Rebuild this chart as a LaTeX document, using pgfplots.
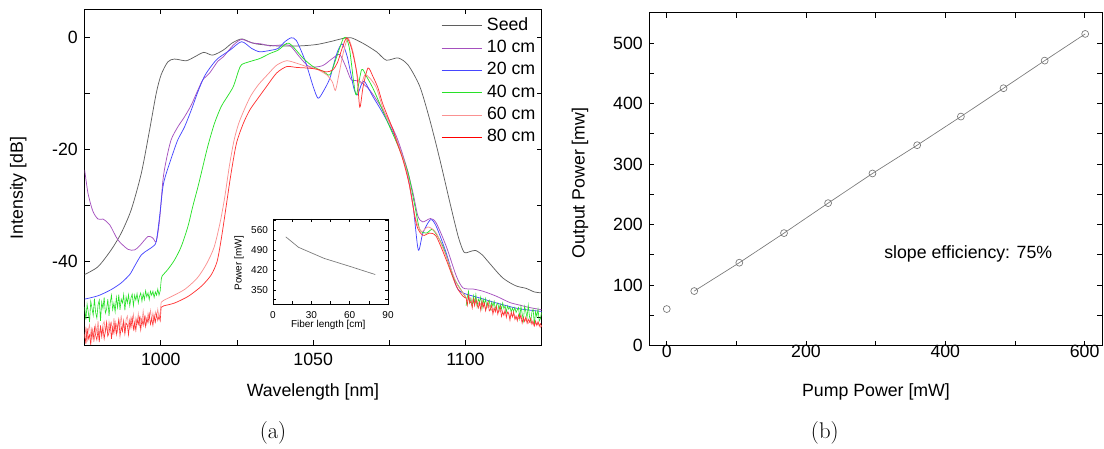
\documentclass[border=0pt]{standalone}
\usepackage{pgfplots}
\pgfplotsset{compat=1.18}
\usepackage{fontspec}
\newfontfamily\arial{Liberation Sans}
\definecolor{cseed}{RGB}{95,95,95}
\definecolor{cten}{RGB}{165,80,190}
\definecolor{ctwenty}{RGB}{70,70,255}
\definecolor{cforty}{RGB}{40,225,40}
\definecolor{csixty}{RGB}{250,145,145}
\definecolor{credline}{RGB}{255,50,50}
\definecolor{clegred}{RGB}{255,0,0}
\definecolor{cgr}{RGB}{120,120,120}
\newcommand{\bigf}{\arial\fontsize{13.3}{15}\selectfont}
\pgfplotsset{
  myax/.style={scale only axis, anchor=south west,
    axis line style={line width=0.7pt},
    tick align=inside, tick style={line width=0.6pt, black},
    major tick length=3.75pt, minor tick length=3.75pt,
    /pgf/number format/assume math mode=true,
    /pgf/number format/1000 sep={},
    ticklabel style={font=\bigf},
  },
  myleg/.style={
    legend style={draw=none, fill=none, anchor=north west,
      font=\bigf, row sep=4.3pt, inner sep=0pt,
      nodes={inner xsep=3.5pt, inner ysep=0pt, text height=9.6pt, text depth=2.8pt}},
    legend cell align=left,
    legend image code/.code={\draw[##1] (0pt,0pt) -- (30pt,0pt);},
  },
}
\begin{document}
\begin{tikzpicture}[x=1pt,y=1pt]
\useasboundingbox (0,0) rectangle (828,336.75);
% ---------------- panel (a)
\begin{axis}[myax, myleg, at={(63.5pt,78pt)}, width=342.75pt, height=251.8pt,
  xmin=975, xmax=1125, ymin=-55, ymax=5,
  xtick={1000,1050,1100}, minor xtick={1025,1075},
  ytick={-40,-20,0}, minor ytick={-50,-30,-10},
  xticklabel style={yshift=-2.85pt}, yticklabel style={xshift=-1.6pt},
  every axis plot/.append style={line width=0.55pt},
  legend style={at={(0.7796,0.9759)}},
]
\addlegendimage{draw=cseed, line width=0.6pt}\addlegendentry{Seed}
\addlegendimage{draw=cten, line width=0.8pt}\addlegendentry{10 cm}
\addlegendimage{draw=ctwenty, line width=0.6pt}\addlegendentry{20 cm}
% Seed
\addplot[cseed, smooth, tension=0.45, forget plot] table {
x y
975 -42.4
979.4 -41.0
983.7 -38.0
987 -35.0
990.3 -30.8
993.6 -24.3
996.3 -16.6
998.5 -10.0
1000.1 -6.7
1002.3 -4.4
1004.5 -3.9
1008.3 -4.2
1011.1 -3.5
1014.1 -2.7
1017 -3.2
1020.5 -2.3
1023.5 -1.0
1026.5 -0.3
1029 -0.8
1031.4 -1.2
1038 -1.55
1045.6 -1.55
1051.1 -1.3
1055.5 -0.8
1059.9 -0.2
1062.5 -0.1
1066.4 -1.1
1070.8 -2.6
1074.0 -4.1
1077.9 -3.7
1081.2 -5.0
1085.0 -8.8
1088.3 -14.8
1091.6 -21.9
1094.9 -29.6
1097.6 -35.6
1099.5 -38.4
1101.5 -38.3
1103.3 -38.1
1105.5 -38.9
1107.9 -40.4
1112.2 -43.0
1116.4 -44.4
1120 -44.9
1122.5 -45.5
1125 -45.7
};
% 10 cm
\addplot[cten, smooth, tension=0.45, forget plot] table {
x y
975 -23.7
976.1 -27.9
977.7 -31.1
979.4 -32.5
981.0 -32.5
983.2 -33.5
985.9 -36.2
989.2 -37.9
991.4 -38.0
993.0 -37.3
995.8 -35.6
997.4 -35.9
998.5 -36.5
999.6 -32.6
1000.7 -25.5
1001.8 -21.9
1003.4 -18.3
1005.6 -16.0
1007.8 -14.2
1010.0 -12.1
1012.2 -9.4
1013.8 -7.6
1016.0 -6.4
1018.7 -4.3
1020.5 -3.5
1023.8 -1.4
1026.5 -0.4
1029.8 -1.0
1033.1 -1.2
1035.8 -1.55
1039.1 -1.4
1042.4 -1.5
1045.5 -3.5
1048.7 -5.25
1053.0 -5.1
1056.3 -3.8
1058.7 -3.1
1060.7 -5.25
1062.5 -7.6
1065.0 -7.8
1068.5 -9.4
1072.9 -13.0
1077.3 -17.7
1080.6 -23.1
1082.8 -27.9
1084.4 -32.0
1086.0 -33.0
1088.5 -32.4
1090.4 -33.2
1093.7 -37.4
1097.0 -42.7
1099.2 -44.8
1102.5 -45.0
1105.8 -45.4
1110.2 -46.3
1114.5 -47.4
1118 -47.9
1121 -48.3
1125 -48.7
};
% 20 cm
\addplot[ctwenty, smooth, tension=0.45, forget plot] table {
x y
975 -46.8
979.4 -46.2
983.7 -45.1
987.0 -43.9
989.8 -42.4
991.4 -40.9
993.6 -38.9
995.8 -38.0
997.4 -37.4
998.5 -36.5
999.6 -32.0
1000.7 -26.7
1001.8 -24.3
1004.0 -20.7
1005.6 -18.3
1007.8 -16.0
1010.0 -13.0
1012.2 -9.7
1014.3 -7.0
1016.5 -5.2
1018.7 -3.8
1022.7 -2.3
1026.5 -0.8
1029.8 -2.0
1032.5 -2.6
1036.4 -2.3
1038.5 -2.0
1040.7 -0.8
1042.8 -0.1
1044.5 -0.6
1047.3 -4.1
1050.0 -8.8
1051.6 -10.9
1053.3 -9.7
1055.5 -7.3
1057.7 -3.0
1059.5 -1.2
1061.2 -3.5
1063.3 -9.0
1064.5 -10.3
1066.0 -8.2
1067.0 -8.0
1069.6 -10.6
1072.9 -13.6
1077.3 -18.3
1080.6 -23.7
1082.8 -30.2
1084.5 -38.0
1086.0 -35.0
1088.5 -32.6
1090.4 -33.8
1093.7 -38.6
1097.0 -44.5
1099.2 -45.7
1104.7 -46.6
1110.2 -47.5
1116.5 -48.4
1120 -48.7
1125 -49.0
};
% 40 cm
\addplot[cforty, line width=0.45pt, forget plot] table {
x y
975.0 -48.2
975.4 -50.5
975.8 -47.7
976.2 -49.2
976.6 -50.9
977.0 -47.2
977.4 -48.4
977.8 -49.7
978.2 -46.7
978.6 -49.2
979.0 -50.2
979.4 -47.8
979.8 -47.0
980.2 -50.7
980.6 -47.3
981.0 -48.5
981.4 -46.5
981.8 -49.3
982.2 -48.6
982.6 -46.8
983.0 -49.8
983.4 -47.4
983.8 -46.1
984.2 -48.7
984.6 -47.5
985.0 -49.1
985.4 -46.5
985.8 -48.3
986.2 -46.0
986.6 -48.7
987.0 -46.8
987.4 -47.5
987.8 -46.0
988.2 -48.8
988.6 -46.4
989.0 -47.5
989.4 -46.0
989.8 -48.0
990.2 -46.6
990.6 -45.9
991.0 -48.0
991.4 -46.1
991.8 -47.0
992.2 -45.8
992.6 -47.5
993.0 -46.3
993.4 -45.7
993.8 -47.2
994.2 -45.8
994.6 -46.9
995.0 -45.3
995.4 -46.4
995.8 -45.7
996.2 -46.9
996.6 -45.4
997.0 -46.1
997.4 -45.4
997.8 -46.5
998.2 -45.5
998.6 -46.1
999.0 -45.0
999.4 -46.1
999.8 -45.3
1000.1 -43.5
};
\addplot[cforty, smooth, tension=0.45, forget plot] table {
x y
1000.1 -43.5
1000.4 -42.7
1002.3 -41.5
1004.5 -39.8
1006.7 -37.4
1008.9 -33.8
1010.5 -30.2
1012.2 -26.7
1013.8 -23.1
1015.4 -19.5
1017.6 -15.4
1019.8 -12.4
1021.6 -10.8
1023.8 -8.8
1025.5 -6.0
1026.5 -4.9
1029.2 -4.35
1032.5 -3.8
1035.8 -2.9
1038.5 -2.3
1041.3 -1.1
1042.9 -1.4
1046.8 -3.8
1050.0 -5.25
1053.3 -6.1
1055.5 -6.7
1057.7 -3.5
1059.9 -0.2
1061.0 -0.3
1062.0 -2.3
1063.3 -8.0
1064.2 -10.3
1065.9 -5.8
1067.5 -7.0
1069.6 -9.1
1071.8 -11.8
1075.1 -16.0
1078.4 -20.1
1081.2 -24.3
1083.4 -30.2
1085.0 -34.4
1087.2 -35.0
1089.3 -34.4
1092.6 -37.4
1095.9 -42.7
1098.7 -45.3
1100.2 -46.6
};
\addplot[cforty, line width=0.45pt, forget plot] table {
x y
1100.2 -48.0
1100.6 -46.4
1101.0 -45.4
1101.4 -47.5
1101.8 -46.7
1102.2 -48.0
1102.6 -46.2
1103.0 -47.6
1103.4 -46.0
1103.8 -48.1
1104.2 -46.8
1104.6 -47.3
1105.0 -46.4
1105.4 -48.5
1105.8 -46.8
1106.2 -47.8
1106.6 -46.7
1107.0 -48.3
1107.4 -47.3
1107.8 -47.0
1108.2 -48.6
1108.6 -47.3
1109.0 -48.1
1109.4 -47.2
1109.8 -48.7
1110.2 -47.8
1110.6 -47.5
1111.0 -48.7
1111.4 -47.7
1111.8 -48.6
1112.2 -47.5
1112.6 -48.5
1113.0 -48.0
1113.4 -49.1
1113.8 -48.0
1114.2 -48.6
1114.6 -48.2
1115.0 -49.1
1115.4 -48.4
1115.8 -49.0
1116.2 -48.3
1116.6 -49.2
1117.0 -48.7
1117.4 -48.3
1117.8 -50.2
1118.2 -48.1
1118.6 -49.4
1119.0 -50.7
1119.4 -48.1
1119.8 -49.0
1120.2 -50.1
1120.6 -47.9
1121.0 -49.9
1121.4 -50.8
1121.8 -49.1
1122.2 -48.6
1122.6 -51.4
1123.0 -49.0
1123.4 -49.9
1123.8 -48.6
1124.2 -50.7
1124.6 -50.3
1125.0 -49.1
};
% 60 cm
\addplot[csixty, line width=0.45pt, forget plot] table {
x y
975.0 -53.8
975.4 -51.7
975.8 -54.5
976.2 -52.3
976.6 -51.4
977.0 -53.8
977.4 -52.0
977.8 -52.8
978.2 -54.0
978.6 -51.5
979.0 -52.8
979.4 -50.7
979.8 -53.3
980.2 -52.0
980.6 -53.9
981.0 -51.3
981.4 -50.8
981.8 -52.7
982.2 -51.6
982.6 -53.2
983.0 -50.8
983.4 -51.9
983.8 -51.0
984.2 -53.2
984.6 -50.2
985.0 -52.3
985.4 -51.3
985.8 -52.6
986.2 -50.4
986.6 -51.7
987.0 -49.7
987.4 -52.2
987.8 -50.6
988.2 -53.0
988.6 -50.4
989.0 -49.8
989.4 -51.5
989.8 -52.1
990.2 -50.0
990.6 -50.8
991.0 -49.5
991.4 -52.0
991.8 -50.2
992.2 -51.2
992.6 -49.4
993.0 -51.5
993.4 -50.0
993.8 -50.8
994.2 -48.9
994.6 -51.1
995.0 -49.9
995.4 -51.2
995.8 -49.3
996.2 -50.2
996.6 -48.8
997.0 -50.6
997.4 -49.3
997.8 -50.7
998.2 -49.1
998.6 -50.0
999.0 -48.6
999.4 -50.1
999.8 -49.2
1000.1 -47.4
};
\addplot[csixty, smooth, tension=0.45, forget plot] table {
x y
1000.1 -47.4
1001 -47.0
1004 -46.2
1008 -45.0
1012 -43.0
1015 -40.5
1017.5 -37.5
1019.5 -33.0
1021 -28.5
1022.5 -23.0
1024 -18.5
1025.5 -15.5
1027.5 -12.8
1029.5 -10.5
1032 -8.5
1035 -6.7
1038 -5.0
1041.3 -4.2
1044.6 -4.65
1047.9 -5.25
1051.1 -5.7
1054.4 -6.7
1056.3 -8.0
1057.3 -9.5
1058.5 -6.5
1060 -2.5
1061.5 -0.2
1063.2 -2.9
1064.8 -7.6
1065.9 -8.2
1067 -6.7
1068.6 -7.3
1070.8 -9.1
1073.1 -13.0
1077 -17.7
1080.6 -23.7
1083.4 -32.0
1085.5 -34.7
1087.7 -33.9
1090.4 -35.0
1093.7 -39.2
1097.0 -43.9
1099.2 -45.7
1100 -46.3
};
\addplot[csixty, line width=0.45pt, forget plot] table {
x y
1100 -46.3
1100.5 -47.1
1101 -46.9
1101.5 -46.5
1102 -47.3
1102.5 -47.0
1103 -47.6
1103.5 -47.1
1104 -47.2
1104.5 -48.0
1105 -47.6
1105.5 -47.9
1106 -47.5
1106.5 -48.4
1107 -48.1
1107.5 -48.3
1108 -47.9
1108.5 -48.8
1109 -48.5
1109.5 -48.7
1110 -48.3
1110.5 -49.2
1111 -48.8
1111.5 -49.1
1112 -48.7
1112.5 -49.6
1113 -49.2
1113.5 -49.5
1114 -49.1
1114.5 -50.0
1115 -49.6
1115.5 -49.9
1116 -49.5
1116.5 -50.4
1117 -50.0
1117.5 -50.3
1118 -49.9
1118.5 -50.8
1119 -50.4
1119.5 -50.7
1120 -50.3
1120.5 -51.2
1121 -50.8
1121.5 -51.1
1122 -50.7
1122.5 -51.6
1123 -51.1
1123.5 -51.4
1124 -51.0
1124.5 -51.9
1125 -51.5
};
% 80 cm
\addplot[credline, line width=0.45pt, forget plot] table {
x y
975.0 -53.0
975.4 -54.8
975.8 -52.0
976.2 -53.9
976.6 -53.2
977.0 -55.0
977.4 -52.3
977.8 -54.0
978.2 -51.9
978.6 -53.3
979.0 -54.1
979.4 -52.3
979.8 -54.5
980.2 -51.5
980.6 -53.2
981.0 -51.9
981.4 -53.9
981.8 -52.4
982.2 -50.9
982.6 -53.4
983.0 -52.8
983.4 -51.3
983.8 -53.9
984.2 -51.8
984.6 -52.9
985.0 -51.0
985.4 -53.1
985.8 -51.7
986.2 -50.5
986.6 -53.4
987.0 -51.8
987.4 -52.6
987.8 -50.8
988.2 -53.0
988.6 -51.1
989.0 -51.4
989.4 -53.2
989.8 -50.6
990.2 -51.9
990.6 -50.2
991.0 -52.2
991.4 -51.0
991.8 -52.4
992.2 -50.4
992.6 -51.3
993.0 -50.1
993.4 -52.3
993.8 -50.5
994.2 -51.5
994.6 -50.0
995.0 -51.7
995.4 -50.3
995.8 -51.0
996.2 -49.5
996.6 -51.3
997.0 -50.3
997.4 -51.5
997.8 -49.8
998.2 -50.9
998.6 -49.5
999.0 -50.6
999.4 -49.9
999.8 -50.7
1000.1 -48.3
};
\addplot[credline, smooth, tension=0.45, forget plot] table {
x y
1000.1 -48.3
1001 -48.0
1004.5 -47.5
1009 -46.3
1013.3 -44.5
1016.5 -42.5
1018.5 -40.0
1020 -35.5
1021.5 -30.0
1023 -24.5
1024.8 -19.0
1027 -15.5
1029.2 -13.0
1031.9 -10.9
1034.7 -8.8
1038 -6.4
1041.3 -5.25
1044.6 -5.4
1047.9 -5.5
1051.1 -5.7
1054.4 -6.2
1056.5 -5.8
1058 -4.5
1059.5 -2.0
1061.0 -0.1
1062.6 -2.0
1064.3 -6.4
1065.3 -12.5
1066.4 -8.8
1068.0 -5.5
1069.6 -7.0
1071.3 -9.1
1072.9 -12.0
1076.2 -16.5
1077.3 -18.5
1079.5 -22.0
1081.7 -26.7
1083.9 -33.5
1086.0 -35.4
1088.2 -35.0
1090.4 -35.6
1093.7 -39.8
1097.0 -44.5
1099.2 -46.3
1100.2 -46.6
};
\addplot[credline, line width=0.45pt, forget plot] table {
x y
1100.2 -46.6
1100.6 -47.9
1101.0 -46.2
1101.4 -47.5
1101.8 -47.2
1102.2 -48.4
1102.6 -46.8
1103.0 -48.0
1103.4 -46.8
1103.8 -47.8
1104.2 -48.4
1104.6 -47.4
1105.0 -48.8
1105.4 -47.1
1105.8 -48.3
1106.2 -47.5
1106.6 -48.9
1107.0 -48.0
1107.4 -47.3
1107.8 -48.9
1108.2 -48.6
1108.6 -47.9
1109.0 -49.5
1109.4 -48.4
1109.8 -49.1
1110.2 -48.1
1110.6 -49.5
1111.0 -48.7
1111.4 -48.1
1111.8 -49.9
1112.2 -49.1
1112.6 -49.7
1113.0 -48.7
1113.4 -50.1
1113.8 -49.1
1114.2 -49.4
1114.6 -50.6
1115.0 -49.1
1115.4 -50.0
1115.8 -49.1
1116.2 -50.4
1116.6 -49.8
1117.0 -50.7
1117.4 -49.6
1117.8 -50.3
1118.2 -49.6
1118.6 -51.1
1119.0 -50.1
1119.4 -50.8
1119.8 -50.0
1120.2 -51.1
1120.6 -50.4
1121.0 -50.9
1121.4 -50.2
1121.8 -51.3
1122.2 -50.8
1122.6 -51.6
1123.0 -50.7
1123.4 -51.5
1123.8 -50.8
1124.2 -51.6
1124.6 -51.2
1125.0 -51.8
};
\end{axis}
% second half of the legend (hidden axis at the same place)
\begin{axis}[myleg, scale only axis, anchor=south west, hide axis,
  at={(63.5pt,78pt)}, width=342.75pt, height=251.8pt,
  xmin=0, xmax=1, ymin=0, ymax=1,
  legend style={at={(0.7796,0.7769)}},
]
\addlegendimage{draw=cforty, line width=0.6pt}\addlegendentry{40 cm}
\addlegendimage{draw=csixty, line width=0.6pt}\addlegendentry{60 cm}
\addlegendimage{draw=clegred, line width=0.85pt}\addlegendentry{80 cm}
\end{axis}
% ---------------- inset
\begin{axis}[myax, at={(204.75pt,108.75pt)}, width=86.25pt, height=63.75pt,
  xmin=0, xmax=90, ymin=300, ymax=600,
  xtick={0,30,60,90}, minor xtick={15,45,75},
  ytick={350,420,490,560}, minor ytick={315,385,455,525,595},
  major tick length=2.25pt, minor tick length=2.25pt,
  axis line style={line width=0.5pt}, tick style={line width=0.4pt},
  axis background/.style={fill=white},
  ticklabel style={font=\arial\fontsize{7.5}{8.5}\selectfont},
  xticklabel style={yshift=-2pt}, yticklabel style={xshift=-0.3pt},
]
\addplot[cgr, line width=0.5pt] table {
x y
10 537
20 500
40 461
60 433
80 404
};
\end{axis}
\node[font=\arial\fontsize{7.5}{8.5}\selectfont] at (246.2,93) {Fiber length [cm]};
\node[font=\arial\fontsize{7.5}{8.5}\selectfont, rotate=90] at (179.25,139.3) {Power [mW]};
% ---------------- panel (b)
\begin{axis}[myax, at={(487pt,77.5pt)}, width=339.5pt, height=249.75pt,
  xmin=-25, xmax=625, ymin=0, ymax=550,
  xtick={0,200,400,600}, minor xtick={100,300,500},
  ytick={0,100,...,500}, minor ytick={50,150,...,450},
  xticklabel style={yshift=3.6pt}, yticklabel style={xshift=-1.4pt},
]
\addplot[cgr, line width=0.5pt] table {
x y
39.5 90.2
104.2 137
168.4 185.9
231.7 235.4
295.4 284.4
359.6 331.1
422.4 378.4
483.6 425.2
542.7 470.8
600.9 514.9
};
\addplot[only marks, mark=o, mark size=2.6pt, cgr, mark options={line width=0.5pt}] table {
x y
0 60.5
39.5 90.2
104.2 137
168.4 185.9
231.7 235.4
295.4 284.4
359.6 331.1
422.4 378.4
483.6 425.2
542.7 470.8
600.9 514.9
};
\node[font=\bigf] at (axis cs:433,151) {slope efficiency: 75\%};
\end{axis}
% ---------------- labels
\node[font=\bigf, rotate=90] at (13.7,195.75) {Intensity [dB]};
\node[font=\bigf] at (234.75,43) {Wavelength [nm]};
\node[font=\fontsize{17}{20}\selectfont] at (204.75,12.2) {(a)};
\node[font=\bigf, rotate=90] at (435,199.5) {Output Power [mw]};
\node[font=\bigf] at (657,43) {Pump Power [mW]};
\node[font=\fontsize{17}{20}\selectfont] at (618.6,12.2) {(b)};
\end{tikzpicture}
\end{document}
